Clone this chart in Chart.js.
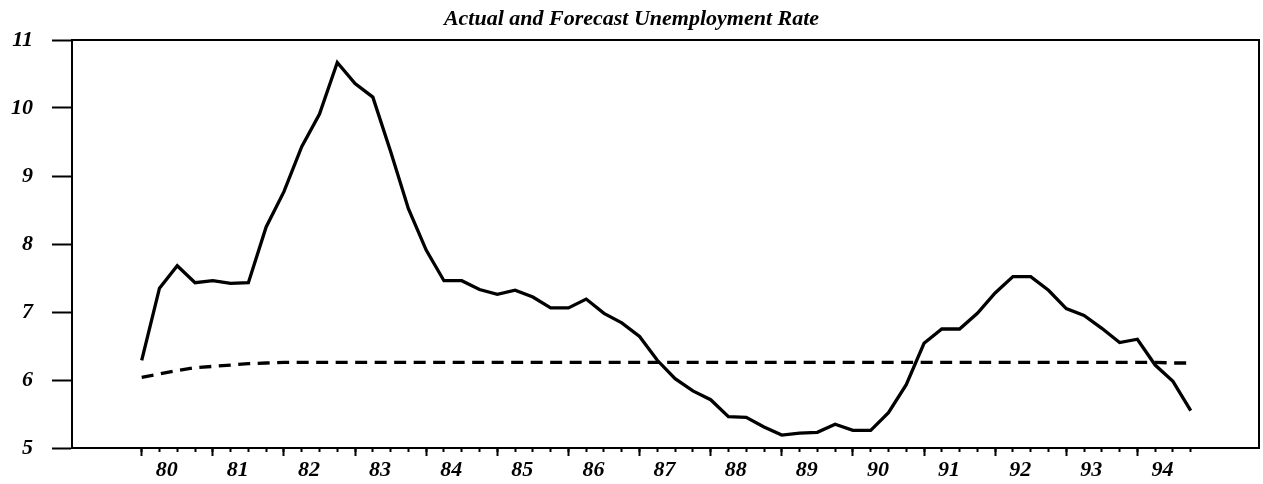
<!DOCTYPE html>
<html>
<head>
<meta charset="utf-8">
<script src="https://cdn.jsdelivr.net/npm/chart.js@4.4.1/dist/chart.umd.min.js"></script>
<style>
  html, body { margin: 0; padding: 0; background: #fff; }
  #wrap { width: 1263px; height: 484px; }
</style>
</head>
<body>
<div id="wrap"><canvas id="c" width="1263" height="484"></canvas></div>
<script>
// Quarterly categories, 1980Q1 .. 1994Q4
const quarters = [
  '1980Q1','1980Q2','1980Q3','1980Q4','1981Q1','1981Q2','1981Q3','1981Q4',
  '1982Q1','1982Q2','1982Q3','1982Q4','1983Q1','1983Q2','1983Q3','1983Q4',
  '1984Q1','1984Q2','1984Q3','1984Q4','1985Q1','1985Q2','1985Q3','1985Q4',
  '1986Q1','1986Q2','1986Q3','1986Q4','1987Q1','1987Q2','1987Q3','1987Q4',
  '1988Q1','1988Q2','1988Q3','1988Q4','1989Q1','1989Q2','1989Q3','1989Q4',
  '1990Q1','1990Q2','1990Q3','1990Q4','1991Q1','1991Q2','1991Q3','1991Q4',
  '1992Q1','1992Q2','1992Q3','1992Q4','1993Q1','1993Q2','1993Q3','1993Q4',
  '1994Q1','1994Q2','1994Q3','1994Q4'
];

// Actual unemployment rate (solid line)
const actual = [
  6.29, 7.35, 7.68, 7.43,
  7.46, 7.42, 7.43, 8.25,
  8.77, 9.43, 9.91, 10.67,
  10.36, 10.16, 9.36, 8.52,
  7.91, 7.46, 7.46, 7.33,
  7.26, 7.32, 7.22, 7.06,
  7.06, 7.19, 6.98, 6.84,
  6.64, 6.29, 6.02, 5.84,
  5.71, 5.46, 5.45, 5.31,
  5.19, 5.22, 5.23, 5.35,
  5.26, 5.26, 5.52, 5.93,
  6.54, 6.75, 6.75, 6.98,
  7.28, 7.52, 7.52, 7.32,
  7.05, 6.95, 6.76, 6.55,
  6.60, 6.22, 5.98, 5.55
];

// Forecast unemployment rate (dashed line)
const forecast = [
  6.04, 6.09, 6.14, 6.18,
  6.20, 6.22, 6.24, 6.25,
  6.26, 6.26, 6.26, 6.26,
  6.26, 6.26, 6.26, 6.26,
  6.26, 6.26, 6.26, 6.26,
  6.26, 6.26, 6.26, 6.26,
  6.26, 6.26, 6.26, 6.26,
  6.26, 6.26, 6.26, 6.26,
  6.26, 6.26, 6.26, 6.26,
  6.26, 6.26, 6.26, 6.26,
  6.26, 6.26, 6.26, 6.26,
  6.26, 6.26, 6.26, 6.26,
  6.26, 6.26, 6.26, 6.26,
  6.26, 6.26, 6.26, 6.26,
  6.26, 6.26, 6.25, 6.25
];

// Year tick labels (one per year, first quarter of each year)
const yearLabels = ['80','81','82','83','84','85','86','87','88','89','90','91','92','93','94'];
const yTicks = [5, 6, 7, 8, 9, 10, 11];

const X_MIN = -3.92, X_MAX = 62.84;
const serif = '"Liberation Serif", "Times New Roman", serif';
const labelFont = { family: serif, size: 22, style: 'italic', weight: 'bold' };

const toPoints = arr => arr.map((v, i) => ({ x: quarters.indexOf(quarters[i]), y: v }));
const majorTickValues = yearLabels.map(l => quarters.indexOf('19' + l + 'Q1'));
const minorTickValues = quarters.map((q, i) => i);

new Chart(document.getElementById('c'), {
  type: 'line',
  data: {
    datasets: [
      {
        label: 'Actual',
        data: toPoints(actual),
        xAxisID: 'x', yAxisID: 'y',
        borderColor: '#000', borderWidth: 3.3, pointRadius: 0, tension: 0, fill: false,
        borderJoinStyle: 'miter'
      },
      {
        label: 'Forecast',
        data: toPoints(forecast),
        xAxisID: 'x', yAxisID: 'y',
        borderColor: '#000', borderWidth: 3.3, borderDash: [12, 7.5], pointRadius: 0, tension: 0, fill: false
      }
    ]
  },
  options: {
    responsive: false,
    animation: false,
    layout: { padding: 0 },
    plugins: {
      legend: { display: false },
      tooltip: { enabled: false },
      title: {
        display: true,
        text: 'Actual and Forecast Unemployment Rate',
        color: '#000',
        font: { family: serif, size: 22, style: 'italic', weight: 'bold', lineHeight: 1.2 },
        padding: { top: 6, bottom: 7.6 }
      }
    },
    scales: {
      x: {
        type: 'linear', axis: 'x', position: 'bottom',
        min: X_MIN, max: X_MAX,
        afterBuildTicks: s => { s.ticks = majorTickValues.map(v => ({ value: v })); },
        afterFit: s => { s.height = 36; },
        ticks: {
          autoSkip: false, maxRotation: 0, color: '#000', font: labelFont,
          padding: 1, labelOffset: 25,
          callback: (v, i) => yearLabels[i]
        },
        grid: { drawOnChartArea: false, tickLength: 8, tickWidth: 2, tickColor: '#000' },
        border: { display: true, color: '#000', width: 2 }
      },
      xMinor: {
        type: 'linear', axis: 'x', position: { y: 5 },
        min: X_MIN, max: X_MAX,
        afterBuildTicks: s => { s.ticks = minorTickValues.map(v => ({ value: v })); },
        ticks: { display: false },
        grid: { drawOnChartArea: false, tickLength: 4, tickWidth: 2, tickColor: '#000' },
        border: { display: false }
      },
      xTop: {
        type: 'linear', axis: 'x', position: 'top',
        min: X_MIN, max: X_MAX,
        afterFit: s => { s.height = 0; },
        ticks: { display: false },
        grid: { drawOnChartArea: false, drawTicks: false },
        border: { display: true, color: '#000', width: 2 }
      },
      y: {
        type: 'linear', axis: 'y', position: 'left',
        min: 5, max: 11,
        afterBuildTicks: s => { s.ticks = yTicks.map(v => ({ value: v })); },
        afterFit: s => { s.width = 72; },
        ticks: { color: '#000', font: labelFont, padding: 19 },
        grid: { drawOnChartArea: false, tickLength: 20, tickWidth: 2, tickColor: '#000' },
        border: { display: true, color: '#000', width: 2 }
      },
      yRight: {
        type: 'linear', axis: 'y', position: 'right',
        min: 5, max: 11,
        afterFit: s => { s.width = 4; },
        ticks: { display: false },
        grid: { drawOnChartArea: false, drawTicks: false },
        border: { display: true, color: '#000', width: 2 }
      }
    }
  }
});
</script>
</body>
</html>
